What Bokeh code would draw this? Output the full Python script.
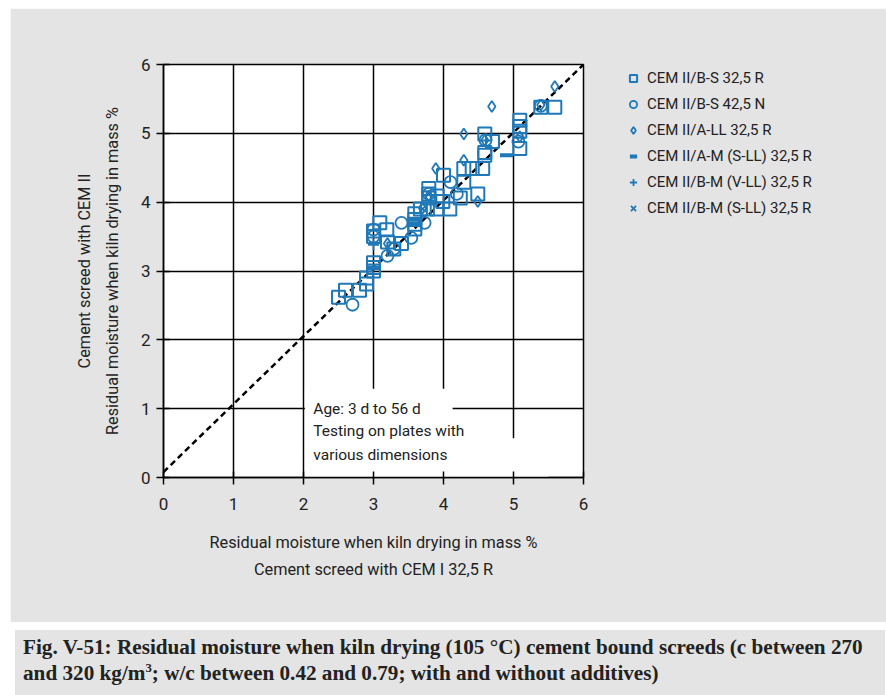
from bokeh.plotting import figure
from bokeh.models import Range1d, Legend, LegendItem, Label, Div, FixedTicker
from bokeh.layouts import column
from bokeh.embed import file_html
from bokeh.resources import INLINE

FONT = "Roboto"
BLUE = "#1f78b8"
BG = "#e3e4e3"
TXT = "#222222"

# --- data (residual moisture, mass %) ---
sq_x = [2.5, 2.6, 2.8, 2.9, 2.9, 3.0, 3.0, 3.0, 3.0, 3.0, 3.09, 3.19, 3.2, 3.29, 3.4,
        3.59, 3.59, 3.59, 3.59, 3.67, 3.77, 3.91, 4.09, 3.79, 3.79, 3.79, 3.91, 3.99,
        4.24, 4.49, 4.0, 4.29, 4.29, 4.41, 4.56, 4.59, 4.59, 4.59, 4.7,
        5.09, 5.09, 5.09, 5.09, 5.39, 5.59]
sq_y = [2.62, 2.72, 2.72, 2.81, 2.9, 3.0, 3.05, 3.12, 3.5, 3.58, 3.7, 3.6, 3.42, 3.32, 3.4,
        3.61, 3.68, 3.75, 3.83, 3.9, 3.9, 3.9, 3.9, 4.06, 4.12, 4.2, 4.09, 4.01,
        4.06, 4.12, 4.39, 4.29, 4.49, 4.49, 4.49, 4.68, 4.72, 4.99, 4.88,
        5.19, 5.1, 5.03, 4.78, 5.38, 5.38]

ci_x = [2.7, 3.0, 3.0, 3.2, 3.29, 3.4, 3.54, 3.73, 3.79, 4.1, 4.19, 5.07, 5.39, 4.6]
ci_y = [2.51, 3.6, 3.5, 3.22, 3.32, 3.7, 3.48, 3.7, 4.12, 4.29, 4.12, 4.88, 5.4, 4.9]

di_x = [3.89, 4.29, 4.29, 4.69, 5.59, 4.49, 3.79, 3.7, 3.2, 4.59, 5.09, 5.39]
di_y = [4.49, 4.61, 4.99, 5.39, 5.68, 4.01, 4.09, 3.91, 3.4, 4.9, 4.95, 5.41]

da_x = [4.9, 3.59, 3.59, 3.0]
da_y = [4.68, 3.68, 3.75, 3.05]

pl_x = [3.0]
pl_y = [3.38]

xx_x = [3.79, 3.7]
xx_y = [4.12, 3.9]

labels = ["CEM II/B-S 32,5 R", "CEM II/B-S 42,5 N", "CEM II/A-LL 32,5 R",
          "CEM II/A-M (S-LL) 32,5 R", "CEM II/B-M (V-LL) 32,5 R", "CEM II/B-M (S-LL) 32,5 R"]

ticks = [0, 1, 2, 3, 4, 5, 6]
diag_x = [0, 6]
diag_y = [0.08, 6]

p = figure(frame_width=420, frame_height=413, x_range=Range1d(0, 6), y_range=Range1d(0, 6),
           output_backend="svg", toolbar_location=None,
           min_border_left=153, min_border_right=297, min_border_top=56, min_border_bottom=145,
           background_fill_color="white", border_fill_color=BG)

p.outline_line_color = "black"
p.outline_line_width = 1.5
for ax in (p.xaxis[0], p.yaxis[0]):
    ax.ticker = FixedTicker(ticks=ticks)
    ax.axis_line_color = "black"
    ax.axis_line_width = 1.5
    ax.major_tick_line_color = "black"
    ax.major_tick_line_width = 1.5
    ax.major_tick_out = 7
    ax.major_tick_in = 6
    ax.minor_tick_line_color = None
    ax.major_label_text_font = FONT
    ax.major_label_text_font_size = "17px"
    ax.major_label_text_color = TXT
    ax.axis_label_text_font = FONT
    ax.axis_label_text_font_size = "16.3px"
    ax.axis_label_text_font_style = "normal"
    ax.axis_label_text_color = TXT
    ax.axis_label_text_line_height = 1.45

p.xaxis.major_label_standoff = 13
p.xaxis.axis_label = "Residual moisture when kiln drying in mass %\nCement screed with CEM I 32,5 R"
p.xaxis.axis_label_standoff = 20
p.yaxis.major_label_standoff = 6
p.yaxis.axis_label = "Cement screed with CEM II\nResidual moisture when kiln drying in mass %"
p.yaxis.axis_label_standoff = 16

p.grid.ticker = FixedTicker(ticks=ticks)
p.grid.grid_line_color = "black"
p.grid.grid_line_width = 1.5
p.grid.grid_line_alpha = 1.0

# white box for the note (hides grid lines)
p.quad(left=[2.02, 4.13], right=[4.13, 5.5], bottom=[0.0, 0.0], top=[1.29, 0.57],
       fill_color="white", line_color=None)

p.line(diag_x, diag_y, line_color="black", line_width=2.5, line_dash="6 4")

r_sq = p.scatter(sq_x, sq_y, marker="square", size=13, fill_color=None,
                 line_color=BLUE, line_width=2)
r_ci = p.scatter(ci_x, ci_y, marker="circle", size=12, fill_color=None,
                 line_color=BLUE, line_width=1.8)
r_di = p.scatter(di_x, di_y, marker="diamond", size=11, fill_color=None,
                 line_color=BLUE, line_width=1.8)
r_da = p.scatter(da_x, da_y, marker="dash", size=13, fill_color=None,
                 line_color=BLUE, line_width=4)
r_pl = p.scatter(pl_x, pl_y, marker="cross", size=11, line_color=BLUE, line_width=1.8)
r_xx = p.scatter(xx_x, xx_y, marker="x", size=9, line_color=BLUE, line_width=1.8)

legend = Legend(items=[LegendItem(label=l, renderers=[r]) for l, r in
                       zip(labels, [r_sq, r_ci, r_di, r_da, r_pl, r_xx])],
                location=(40, 259), orientation="vertical")
legend.background_fill_alpha = 0
legend.border_line_color = None
legend.padding = 3
legend.margin = 0
legend.spacing = 6
legend.glyph_width = 20
legend.glyph_height = 18
legend.label_height = 20
legend.label_standoff = 4
legend.label_text_font = FONT
legend.label_text_font_size = "15px"
legend.label_text_color = TXT
p.add_layout(legend, "right")

note = ["Age: 3 d to 56 d", "Testing on plates with", "various dimensions"]
note_y = [1.0, 0.67, 0.32]
for t, yy in zip(note, note_y):
    p.add_layout(Label(x=2.14, y=yy, text=t, text_font=FONT, text_font_size="15.5px",
                       text_baseline="middle", text_color=TXT))

cap = Div(text="Fig. V-51: Residual moisture when kiln drying (105 °C) cement bound screeds (c between 270<br>"
               "and 320 kg/m<sup style=\"line-height:0;font-size:0.6em\">3</sup>; w/c between 0.42 and 0.79; with and without additives)",
          width=870, height=70,
          styles={"background-color": BG, "font-family": "Liberation Serif", "font-weight": "bold",
                  "font-size": "21.2px", "line-height": "26px", "padding": "4px 8px 0px 8px",
                  "box-sizing": "border-box", "color": TXT, "white-space": "nowrap"})

layout = column(p, cap, spacing=3, margin=(8, 0, 0, 10))

open("out.html", "w").write(file_html(layout, INLINE))
